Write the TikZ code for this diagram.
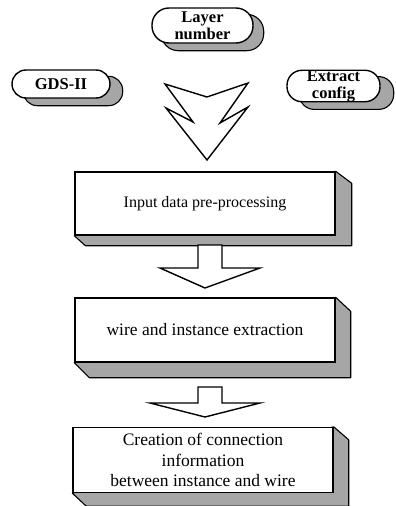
\documentclass[tikz,border=0pt]{standalone}
\usepackage{fontspec}
\setmainfont{Liberation Serif}
\pgfdeclarelayer{bg}
\pgfsetlayers{bg,main}
\tikzset{
  pill/.style={draw, line width=1.4pt, fill=white, inner sep=0pt, align=center,
    font=\fontsize{16.5}{17}\selectfont\bfseries},
  stepbox/.style={draw, line width=1.4pt, fill=white, inner sep=0pt, align=center,
    minimum width=260pt, font=\fontsize{17.5}{20.5}\selectfont},
  shade/.style={fill=black!35, draw=black, line width=1.1pt, line join=round},
  blockarrow/.style={draw, line width=1.4pt, fill=white, line join=miter},
}
\begin{document}
\begin{tikzpicture}[x=1pt,y=-1pt]
\useasboundingbox (0,0) rectangle (396,506);
% input pills
\node[pill, rounded corners=17pt, minimum width=101pt, minimum height=35pt] (lay) at (202.5,25.5) {Layer\\number};
\node[pill, rounded corners=14pt, minimum width=98pt, minimum height=28pt] (gds) at (61,84) {GDS-II};
\node[pill, rounded corners=15pt, minimum width=93pt, minimum height=30pt] (ext) at (333.5,86) {Extract\\config};
% process boxes
\node[stepbox, minimum height=63pt, font=\fontsize{16}{20.5}\selectfont] (b1) at (205,203.5) {Input data pre-processing};
\node[stepbox, minimum height=64pt] (b2) at (205,330) {wire and instance extraction};
\node[stepbox, minimum height=65pt] (b3) at (203,460) {Creation of connection\\information\\between instance and wire};
% shadows
\begin{pgfonlayer}{bg}
  \draw[shade, rounded corners=17pt] ([shift={(10,7)}]lay.south west) rectangle ([shift={(10,7)}]lay.north east);
  \draw[shade, rounded corners=14pt] ([shift={(12,7)}]gds.south west) rectangle ([shift={(12,7)}]gds.north east);
  \draw[shade, rounded corners=15pt] ([shift={(13,7)}]ext.south west) rectangle ([shift={(13,7)}]ext.north east);
  \draw[shade] (b1.north east) -- ([shift={(16,12)}]b1.north east) -- ([shift={(16,10)}]b1.south east)
     -- ([shift={(11,10)}]b1.south west) -- (b1.south west) -- cycle;
  \draw[shade] (b2.north east) -- ([shift={(15,14)}]b2.north east) -- ([shift={(15,15)}]b2.south east)
     -- ([shift={(15,15)}]b2.south west) -- (b2.south west) -- cycle;
  \draw[shade] (b3.north east) -- ([shift={(15,13)}]b3.north east) -- ([shift={(15,13)}]b3.south east)
     -- ([shift={(14,13)}]b3.south west) -- (b3.south west) -- cycle;
\end{pgfonlayer}
% merging arrow
\draw[blockarrow] (165,84) -- (207,97) -- (248,83) -- (220,123) -- (248,107) -- (207,160)
   -- (166,108) -- (193,122) -- cycle;
% block arrows between boxes
\draw[blockarrow] (198,245) -- (222,245) -- (222,268) -- (260,268) -- (205,288) -- (160,268) -- (198,268) -- cycle;
\draw[blockarrow] (198,387) -- (222,387) -- (222,403) -- (260,403) -- (205,417) -- (150,403) -- (198,403) -- cycle;
\end{tikzpicture}
\end{document}
